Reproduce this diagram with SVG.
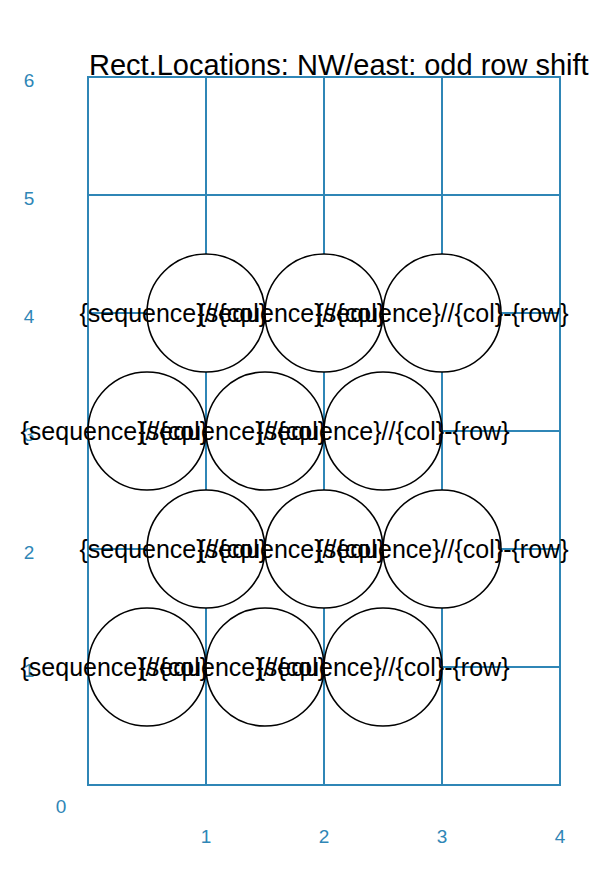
<svg xmlns="http://www.w3.org/2000/svg" width="615" height="875" viewBox="0 0 615 875">
<style>
.grid{stroke:#2f86b6;stroke-width:2;fill:none;stroke-linecap:square}
.ax{font-family:"Liberation Sans",Arial,sans-serif;font-size:19px;fill:#2f86b6;text-anchor:middle}
.title{font-family:"Liberation Sans",Arial,sans-serif;font-size:29px;fill:#000}
.loc circle{fill:#fff;stroke:#000;stroke-width:1.6}
.loc text{font-family:"Liberation Sans",Arial,sans-serif;font-size:25px;fill:#000;text-anchor:middle}
</style>
<rect width="615" height="875" fill="#fff"/>
<g id="grid" class="grid">
<path d="M88 77V785M206 77V785M324 77V785M442 77V785M560 77V785"/>
<path d="M88 77H560M88 195H560M88 313H560M88 431H560M88 549H560M88 667H560M88 785H560"/>
</g>
<g id="axes">
<text class="ax" x="29" y="87">6</text>
<text class="ax" x="29" y="205">5</text>
<text class="ax" x="29" y="323">4</text>
<text class="ax" x="29" y="441">3</text>
<text class="ax" x="29" y="559">2</text>
<text class="ax" x="29" y="677">1</text>
<text class="ax" x="61" y="813">0</text>
<text class="ax" x="206" y="843">1</text>
<text class="ax" x="324" y="843">2</text>
<text class="ax" x="442" y="843">3</text>
<text class="ax" x="560" y="843">4</text>
</g>
<text class="title" x="89" y="74.5">Rect.Locations: NW/east: odd row shift</text>
<g id="connectors"/>
<g id="loc-1-4" class="loc"><circle cx="206" cy="313" r="59"/><text x="206" y="322">{sequence}//{col}-{row}</text></g>
<g id="loc-2-4" class="loc"><circle cx="324" cy="313" r="59"/><text x="324" y="322">{sequence}//{col}-{row}</text></g>
<g id="loc-3-4" class="loc"><circle cx="442" cy="313" r="59"/><text x="442" y="322">{sequence}//{col}-{row}</text></g>
<g id="loc-1-3" class="loc"><circle cx="147" cy="431" r="59"/><text x="147" y="440">{sequence}//{col}-{row}</text></g>
<g id="loc-2-3" class="loc"><circle cx="265" cy="431" r="59"/><text x="265" y="440">{sequence}//{col}-{row}</text></g>
<g id="loc-3-3" class="loc"><circle cx="383" cy="431" r="59"/><text x="383" y="440">{sequence}//{col}-{row}</text></g>
<g id="loc-1-2" class="loc"><circle cx="206" cy="549" r="59"/><text x="206" y="558">{sequence}//{col}-{row}</text></g>
<g id="loc-2-2" class="loc"><circle cx="324" cy="549" r="59"/><text x="324" y="558">{sequence}//{col}-{row}</text></g>
<g id="loc-3-2" class="loc"><circle cx="442" cy="549" r="59"/><text x="442" y="558">{sequence}//{col}-{row}</text></g>
<g id="loc-1-1" class="loc"><circle cx="147" cy="667" r="59"/><text x="147" y="676">{sequence}//{col}-{row}</text></g>
<g id="loc-2-1" class="loc"><circle cx="265" cy="667" r="59"/><text x="265" y="676">{sequence}//{col}-{row}</text></g>
<g id="loc-3-1" class="loc"><circle cx="383" cy="667" r="59"/><text x="383" y="676">{sequence}//{col}-{row}</text></g>
</svg>
